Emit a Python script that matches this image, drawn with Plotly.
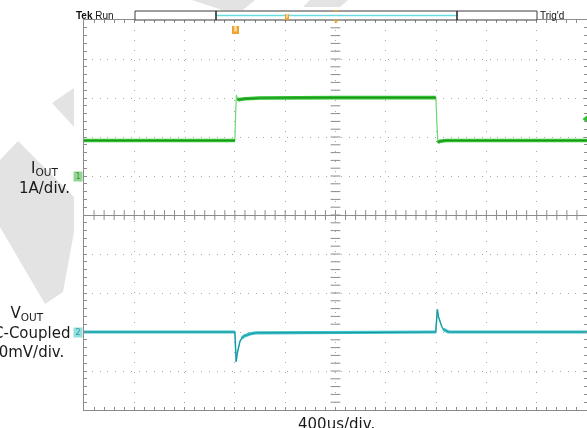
import numpy as np
import plotly.graph_objects as go

# ---- acquisition settings -------------------------------------------------
T_DIV_MS = 0.4            # 400 us/div
I_SCALE_A = 1.0           # channel 1: 1 A/div
V_SCALE_MV = 50.0         # channel 2: 50 mV/div, AC-coupled
CH1_GROUND_DIV = 1.0      # channel 1 reference marker (divisions from centre)
CH2_GROUND_DIV = -3.0     # channel 2 reference marker
TRIGGER_LEVEL_A = 1.46

# ---- channel 1: output current load step (time in ms, current in A) -------
iout_t_ms = [0.000, 1.200, 1.206, 1.212, 1.220, 1.235, 1.280, 1.400, 2.000,
             2.798, 2.806, 2.814, 2.830, 2.880, 4.000]
iout_a = [0.91, 0.91, 1.60, 2.08, 1.97, 1.96, 1.98, 2.00, 2.01,
          2.01, 1.40, 0.86, 0.89, 0.91, 0.91]

# ---- channel 2: output voltage deviation (time in ms, mV) ------------------
vout_t_ms = [0.000, 1.200, 1.205, 1.210, 1.218, 1.227, 1.240, 1.254, 1.275,
             1.294, 1.330, 1.373, 2.000, 2.797, 2.803, 2.810, 2.818, 2.831,
             2.845, 2.857, 2.875, 2.897, 4.000]
vout_mv = [0.0, 0.0, -20.0, -38.0, -28.0, -19.0, -12.0, -8.0, -5.0,
           -4.0, -2.0, -1.0, -1.0, 0.0, 15.0, 29.0, 20.0, 13.0,
           7.0, 3.5, 1.5, 0.0, 0.0]

# ---- canvas geometry -------------------------------------------------------
W, H = 587, 428
ML, MR, MT, MB = 84, 0, 20, 18
PW, PH = W - ML - MR, H - MT - MB


def fx(px):
    return (px - ML) / PW


def fy(py):
    return (H - MB - py) / PH


AX = "#8c8c8c"
GRID = "#a8a8a8"
GREEN = "#2fbf2f"
GREEN_DARK = "#178a17"
CYAN = "#3cc4cc"
CYAN_DARK = "#14868c"
ORANGE = "#f2a12e"
FONT = "DejaVu Sans"

x_full = 10 * T_DIV_MS
px_per_ms = PW / x_full
px_per_div = PH / 10.0
centre_px = MT + PH / 2


def flat_parts(t, d, max_slope=1.0):
    """Keep only the slowly varying segments (drawn thick, like trace noise)."""
    xs, ys = [], []
    for i in range(len(t) - 1):
        dx = (t[i + 1] - t[i]) * px_per_ms
        dy = abs(d[i + 1] - d[i]) * px_per_div
        if dx > 0 and dy / dx <= max_slope:
            if xs and xs[-1] is not None and xs[-1] == t[i]:
                xs.append(t[i + 1]); ys.append(d[i + 1])
            else:
                xs += [None, t[i], t[i + 1]]
                ys += [None, d[i], d[i + 1]]
    return xs, ys


ch1_div = [CH1_GROUND_DIV + v / I_SCALE_A for v in iout_a]
ch2_div = [CH2_GROUND_DIV + v / V_SCALE_MV for v in vout_mv]

fig = go.Figure()

# cross-hair tick marks on the centre lines
minor_x = np.arange(0, x_full + 1e-9, T_DIV_MS / 5)[1:-1]
minor_y = np.arange(-5, 5 + 1e-9, 0.2)[1:-1]
fig.add_trace(go.Scatter(x=minor_x, y=np.zeros_like(minor_x), mode="markers",
                         marker=dict(symbol="line-ns", size=7, line=dict(width=1, color=AX)),
                         hoverinfo="skip"))
fig.add_trace(go.Scatter(x=np.full_like(minor_y, x_full / 2), y=minor_y, mode="markers",
                         marker=dict(symbol="line-ew", size=7, line=dict(width=1, color=AX)),
                         hoverinfo="skip"))

# channel 2 (V_OUT)
fig.add_trace(go.Scatter(x=vout_t_ms, y=ch2_div, mode="lines",
                         line=dict(color=CYAN, width=1.6), hoverinfo="skip"))
vx, vy = flat_parts(vout_t_ms, ch2_div)
fig.add_trace(go.Scatter(x=vx, y=vy, mode="lines",
                         line=dict(color=CYAN, width=3.2), hoverinfo="skip"))
fig.add_trace(go.Scatter(x=vout_t_ms, y=ch2_div, mode="lines",
                         line=dict(color=CYAN_DARK, width=1), opacity=0.8, hoverinfo="skip"))

# channel 1 (I_OUT)
fig.add_trace(go.Scatter(x=iout_t_ms, y=ch1_div, mode="lines",
                         line=dict(color="#6fd86f", width=1.2), hoverinfo="skip"))
ix, iy = flat_parts(iout_t_ms, ch1_div)
fig.add_trace(go.Scatter(x=ix, y=iy, mode="lines",
                         line=dict(color=GREEN, width=3.6), hoverinfo="skip"))
fig.add_trace(go.Scatter(x=ix, y=iy, mode="lines",
                         line=dict(color=GREEN_DARK, width=1.2), opacity=0.8, hoverinfo="skip"))

# trigger level indicator on the right edge
fig.add_trace(go.Scatter(x=[x_full - 0.012], y=[CH1_GROUND_DIV + TRIGGER_LEVEL_A / I_SCALE_A],
                         mode="markers", cliponaxis=False,
                         marker=dict(symbol="triangle-left", size=6, color=GREEN),
                         hoverinfo="skip"))

# ---- shapes: background watermark, record bar, markers ---------------------
def poly(points, **kw):
    path = "M " + " L ".join(f"{fx(a):.5f},{fy(b):.5f}" for a, b in points) + " Z"
    return dict(type="path", path=path, xref="paper", yref="paper", **kw)


WM = "#e3e3e3"
shapes = [
    poly([(192, 0), (255, 0), (243, 10), (222, 10)], fillcolor=WM, line=dict(width=0), layer="below"),
    poly([(310, 0), (348, 0), (340, 7), (303, 7)], fillcolor=WM, line=dict(width=0), layer="below"),
    poly([(52, 103), (74, 88), (74, 127)], fillcolor=WM, line=dict(width=0), layer="below"),
    poly([(0, 160), (18, 141), (74, 197), (74, 232), (63, 292), (45, 304), (0, 227)],
         fillcolor=WM, line=dict(width=0), layer="below"),
]


def rect(x0, y0, x1, y1, **kw):
    return dict(type="rect", xref="paper", yref="paper",
                x0=fx(x0), x1=fx(x1), y0=fy(y1), y1=fy(y0), **kw)


def seg(x0, y0, x1, y1, **kw):
    return dict(type="line", xref="paper", yref="paper",
                x0=fx(x0), x1=fx(x1), y0=fy(y0), y1=fy(y1), **kw)


shapes += [
    rect(135, 11, 537, 20, line=dict(color="#3c3c3c", width=1), fillcolor="white"),
    seg(216, 15.5, 457, 15.5, line=dict(color="#6adbe2", width=1.5)),
    seg(216, 11, 216, 20, line=dict(color="#202020", width=1.5)),
    seg(457, 11, 457, 20, line=dict(color="#202020", width=1.5)),
    # trigger position marker inside the record bar
    rect(285, 14, 289, 20, line=dict(width=0), fillcolor=ORANGE),
    rect(286.3, 14, 287.7, 18, line=dict(width=0), fillcolor="#fde1b0"),
    # expansion point marks
    poly([(334, 10), (338, 10), (336, 12.5)], fillcolor=ORANGE, line=dict(width=0)),
    poly([(333.5, 20), (338.5, 20), (336, 23.5)], fillcolor=ORANGE, line=dict(width=0)),
    # trigger marker below the top border
    rect(232, 26, 239, 34, line=dict(width=0), fillcolor=ORANGE),
    rect(234.2, 26, 236.8, 31.5, line=dict(width=0), fillcolor="#fde1b0"),
]

# ---- text ------------------------------------------------------------------
annotations = [
    dict(x=fx(74), y=fy(15.5), xanchor="left", yanchor="middle", text="<b>Tek</b> Run",
         font=dict(family="Liberation Sans", size=10, color="#111111")),
    dict(x=fx(538), y=fy(15.5), xanchor="left", yanchor="middle", text="Trig'd",
         font=dict(family="Liberation Sans", size=10, color="#111111")),
    dict(x=fx(44), y=fy(178), xanchor="center", yanchor="middle", align="center",
         text="I<sub>OUT</sub><br>1A/div.",
         font=dict(family=FONT, size=15, color="#1a1a1a")),
    dict(x=fx(26), y=fy(332.7), xanchor="center", yanchor="middle", align="center",
         text="V<sub>OUT</sub><br>AC-Coupled<br>50mV/div.",
         font=dict(family=FONT, size=15, color="#1a1a1a")),
    dict(x=fx(336), y=fy(424), xanchor="center", yanchor="middle", text="400us/div.",
         font=dict(family=FONT, size=15, color="#1a1a1a")),
    dict(x=fx(78), y=fy(centre_px - CH1_GROUND_DIV * px_per_div), xanchor="center",
         yanchor="middle", text="1", width=8, height=9, bgcolor="#93d693", borderpad=0,
         font=dict(family=FONT, size=8, color="#3f8f3f")),
    dict(x=fx(78), y=fy(centre_px - CH2_GROUND_DIV * px_per_div), xanchor="center",
         yanchor="middle", text="2", width=8, height=9, bgcolor="#93dede", borderpad=0,
         font=dict(family=FONT, size=8, color="#2f9aa0")),
]
for a in annotations:
    a.update(xref="paper", yref="paper", showarrow=False)

fig.update_layout(
    width=W, height=H,
    margin=dict(l=ML, r=MR, t=MT, b=MB, pad=0),
    paper_bgcolor="white", plot_bgcolor="white",
    showlegend=False,
    shapes=shapes,
    annotations=annotations,
    xaxis=dict(range=[0, x_full], tick0=0, dtick=T_DIV_MS, showticklabels=False,
               ticks="inside", ticklen=3, tickcolor=AX,
               showgrid=True, gridcolor=GRID, gridwidth=1, griddash="1px,9.06px",
               zeroline=False, showline=True, linecolor=AX, linewidth=1, mirror="ticks",
               minor=dict(dtick=T_DIV_MS / 5, ticks="inside", ticklen=3, tickcolor=AX,
                          showgrid=False),
               fixedrange=True),
    yaxis=dict(range=[-5, 5], tick0=0, dtick=1, showticklabels=False,
               ticks="inside", ticklen=3, tickcolor=AX,
               showgrid=True, gridcolor=GRID, gridwidth=1, griddash="1px,6.8px",
               zeroline=True, zerolinecolor=AX, zerolinewidth=1,
               showline=True, linecolor=AX, linewidth=1, mirror="ticks",
               minor=dict(dtick=0.2, ticks="inside", ticklen=3, tickcolor=AX,
                          showgrid=False),
               fixedrange=True),
)

fig.write_html("out.html")
